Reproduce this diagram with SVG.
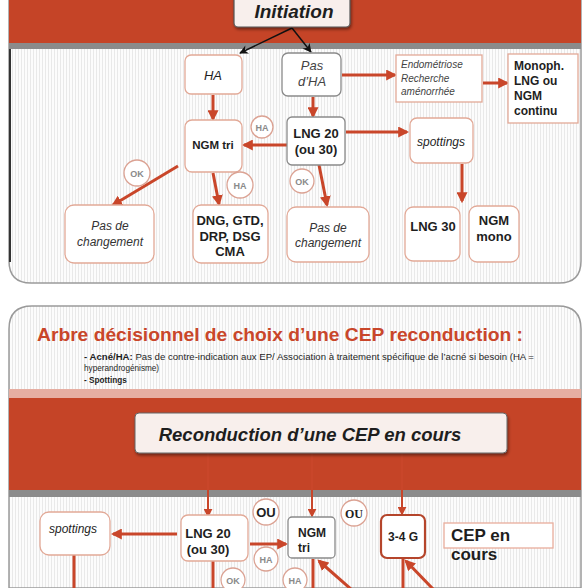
<svg xmlns="http://www.w3.org/2000/svg" width="588" height="588" viewBox="0 0 588 588">
<defs>
<pattern id="stripes" width="3" height="10" patternUnits="userSpaceOnUse"><rect width="3" height="10" fill="#fcfcfc"/><rect width="1" height="10" fill="#e9e9e9"/></pattern>
<marker id="oa" viewBox="0 0 10 10" refX="8" refY="5" markerWidth="11" markerHeight="11" markerUnits="userSpaceOnUse" orient="auto"><path d="M0,0 L10,5 L0,10 Z" fill="#c9462a"/></marker>
<marker id="ob" viewBox="0 0 10 10" refX="8" refY="5" markerWidth="9" markerHeight="9" markerUnits="userSpaceOnUse" orient="auto"><path d="M0,0 L10,5 L0,10 Z" fill="#c9462a"/></marker>
<marker id="ba" viewBox="0 0 10 10" refX="9" refY="5" markerWidth="10" markerHeight="9" markerUnits="userSpaceOnUse" orient="auto"><path d="M0,0 L10,5 L0,10 L3,5 Z" fill="#111"/></marker>
<filter id="sh" x="-10%" y="-20%" width="120%" height="150%"><feDropShadow dx="1" dy="2" stdDeviation="1.5" flood-color="#000" flood-opacity="0.45"/></filter>
</defs>
<style>
text{font-family:"Liberation Sans",Arial,sans-serif;fill:#1e1e1e}
.b{font-weight:bold}
.i{font-style:italic}
.box{fill:#fff;stroke:#e2a997;stroke-width:1.3}
.gbox{fill:#fff;stroke:#8a8a8a;stroke-width:1.3}
.circ{fill:#fff;stroke:#dba293;stroke-width:1.3}
.ct{font-size:9px;font-weight:bold;fill:#8a8a8a}
.oc{stroke:#c9462a;stroke-width:3;fill:none}
.ot{stroke:#c9462a;stroke-width:2;fill:none}
</style>

<!-- Panel 1 -->
<g id="panel1">
<path d="M9,0 H581 V261 Q581,283 559,283 H31 Q9,283 9,261 Z" fill="url(#stripes)" stroke="#9a9a9a" stroke-width="1.5"/>
<rect x="9" y="0" width="572" height="43" fill="#c54427"/>
<rect x="9" y="43" width="572" height="6" fill="#8b8b8b"/>
<line x1="10" y1="49" x2="10" y2="262" stroke="#333" stroke-width="2"/>
</g>

<!-- Panel 2 -->
<g id="panel2">
<path d="M9,329 Q9,306 32,306 H558 Q581,306 581,329 V588 H9 Z" fill="url(#stripes)" stroke="#9a9a9a" stroke-width="1.5"/>
<rect x="9" y="389" width="572" height="9" fill="#e6aea2"/>
<rect x="9" y="398" width="572" height="92" fill="#c54427"/>
<rect x="9" y="490" width="572" height="7" fill="#8b8b8b"/>
<text x="37" y="341" font-size="19" class="b" style="fill:#c9462a" textLength="486" lengthAdjust="spacingAndGlyphs">Arbre décisionnel de choix d’une CEP reconduction :</text>
<text x="84" y="360" font-size="8.2" textLength="450" lengthAdjust="spacingAndGlyphs"><tspan class="b">- Acné/HA:</tspan> Pas de contre-indication aux EP/ Association à traitement spécifique de l’acné si besoin (HA =</text>
<text x="84" y="371" font-size="8.2">hyperandrogénisme)</text>
<text x="84" y="383" font-size="8.2" class="b">- Spottings</text>
</g>

<!-- Connectors -->
<g id="connectors">
<line x1="292" y1="28" x2="240" y2="53" stroke="#111" stroke-width="1.5" marker-end="url(#ba)"/>
<line x1="292" y1="28" x2="311" y2="52" stroke="#111" stroke-width="1.5" marker-end="url(#ba)"/>
<line class="oc" x1="342" y1="75" x2="395" y2="75" marker-end="url(#oa)"/>
<line class="oc" x1="483" y1="83" x2="507" y2="83" marker-end="url(#oa)"/>
<line class="oc" x1="213" y1="95" x2="213" y2="119" marker-end="url(#oa)"/>
<line class="oc" x1="313" y1="97" x2="313" y2="116" marker-end="url(#oa)"/>
<line class="oc" x1="287" y1="145" x2="244" y2="145" marker-end="url(#oa)"/>
<line class="oc" x1="346" y1="132" x2="407" y2="132" marker-end="url(#oa)"/>
<line class="oc" x1="462" y1="164" x2="462" y2="201" marker-end="url(#oa)"/>
<line class="oc" x1="178" y1="166" x2="113" y2="205" marker-end="url(#oa)"/>
<line class="oc" x1="213" y1="173" x2="219" y2="204" marker-end="url(#oa)"/>
<line class="oc" x1="319" y1="165" x2="327" y2="205" marker-end="url(#oa)"/>

<line class="ot" x1="208" y1="453" x2="208" y2="516" marker-end="url(#ob)"/>
<line class="ot" x1="312" y1="453" x2="312" y2="516" marker-end="url(#ob)"/>
<line class="ot" x1="402" y1="453" x2="402" y2="514" marker-end="url(#ob)"/>
<line class="oc" x1="177" y1="534" x2="113" y2="534" marker-end="url(#oa)"/>
<line class="oc" x1="250" y1="544" x2="286" y2="544" marker-end="url(#oa)"/>
<line class="oc" x1="74" y1="555" x2="74" y2="590"/>
<line class="oc" x1="213" y1="561" x2="213" y2="590"/>
<line class="oc" x1="313" y1="590" x2="313" y2="559"/>
<line class="oc" x1="352" y1="590" x2="319" y2="561" marker-end="url(#oa)"/>
<line class="oc" x1="403" y1="559" x2="403" y2="590"/>
<line class="oc" x1="434" y1="590" x2="406" y2="561" marker-end="url(#oa)"/>
</g>

<!-- Top nodes -->
<g id="initiation">
<rect x="234" y="-6" width="116" height="33" rx="4" fill="#f8efec" stroke="#555" stroke-width="1.2" filter="url(#sh)"/>
<text x="294" y="18" font-size="19" class="b i" text-anchor="middle">Initiation</text>
</g>
<g id="ha">
<rect class="box" x="185" y="55" width="57" height="39" rx="6"/>
<text x="213" y="80" font-size="13" class="i" text-anchor="middle">HA</text>
</g>
<g id="pas-dha">
<rect class="gbox" x="282" y="53" width="59" height="43" rx="6"/>
<text x="312" y="70" font-size="13" class="i" text-anchor="middle" style="fill:#444">Pas</text>
<text x="312" y="86" font-size="13" class="i" text-anchor="middle" style="fill:#444">d’HA</text>
</g>
<g id="endometriose">
<rect class="box" x="396" y="55" width="86" height="47"/>
<text x="401" y="68" font-size="10" class="i" style="fill:#444">Endométriose</text>
<text x="401" y="82" font-size="10" class="i" style="fill:#444">Recherche</text>
<text x="401" y="95" font-size="10" class="i" style="fill:#444">aménorrhée</text>
</g>
<g id="monoph">
<rect class="box" x="508" y="54" width="70" height="69"/>
<text x="514" y="70" font-size="12" class="b">Monoph.</text>
<text x="514" y="85" font-size="12" class="b">LNG ou</text>
<text x="514" y="100" font-size="12" class="b">NGM</text>
<text x="514" y="115" font-size="12" class="b">continu</text>
</g>
<g id="ngm-tri">
<rect class="box" x="185" y="120" width="57" height="52" rx="7"/>
<text x="213" y="149" font-size="11.5" class="b" text-anchor="middle">NGM tri</text>
</g>
<g id="lng20">
<rect class="gbox" x="287" y="117" width="58" height="48" rx="5"/>
<text x="316" y="138" font-size="13" class="b" text-anchor="middle">LNG 20</text>
<text x="316" y="154" font-size="13" class="b" text-anchor="middle">(ou 30)</text>
</g>
<g id="spottings1">
<rect class="box" x="410" y="118" width="63" height="45" rx="7"/>
<text x="441" y="146" font-size="12" class="i" text-anchor="middle">spottings</text>
</g>
<g id="c-ha1"><circle class="circ" cx="262" cy="127" r="11"/><text class="ct" x="262" y="130.5" text-anchor="middle">HA</text></g>
<g id="c-ok1"><circle class="circ" cx="137" cy="173" r="13"/><text class="ct" x="137" y="176.5" text-anchor="middle">OK</text></g>
<g id="c-ha2"><circle class="circ" cx="240" cy="185" r="13"/><text class="ct" x="240" y="188.5" text-anchor="middle">HA</text></g>
<g id="c-ok2"><circle class="circ" cx="302" cy="181" r="12"/><text class="ct" x="302" y="184.5" text-anchor="middle">OK</text></g>
<g id="pas-changement1">
<rect class="box" x="65" y="205" width="89" height="58" rx="9"/>
<text x="110" y="230" font-size="12" class="i" text-anchor="middle" style="fill:#333">Pas de</text>
<text x="110" y="246" font-size="12" class="i" text-anchor="middle" style="fill:#333">changement</text>
</g>
<g id="dng">
<rect class="box" x="193" y="205" width="75" height="58" rx="8"/>
<text x="230" y="225" font-size="13" class="b" text-anchor="middle">DNG, GTD,</text>
<text x="230" y="241" font-size="13" class="b" text-anchor="middle">DRP, DSG</text>
<text x="230" y="256" font-size="13" class="b" text-anchor="middle">CMA</text>
</g>
<g id="pas-changement2">
<rect class="box" x="287" y="207" width="82" height="55" rx="9"/>
<text x="328" y="232" font-size="12" class="i" text-anchor="middle" style="fill:#333">Pas de</text>
<text x="328" y="247" font-size="12" class="i" text-anchor="middle" style="fill:#333">changement</text>
</g>
<g id="lng30">
<rect class="box" x="405" y="207" width="55" height="54" rx="8"/>
<text x="433" y="231" font-size="13" class="b" text-anchor="middle">LNG 30</text>
</g>
<g id="ngm-mono">
<rect class="box" x="469" y="206" width="50" height="56" rx="8"/>
<text x="494" y="225" font-size="13" class="b" text-anchor="middle">NGM</text>
<text x="494" y="241" font-size="13" class="b" text-anchor="middle">mono</text>
</g>

<!-- Bottom nodes -->
<g id="reconduction">
<rect x="135" y="413" width="372" height="40" rx="4" fill="#f8efec" stroke="#666" stroke-width="1" filter="url(#sh)"/>
<text x="310" y="441" font-size="18.5" class="b i" text-anchor="middle">Reconduction d’une CEP en cours</text>
</g>
<g id="spottings2">
<rect class="box" x="40" y="512" width="70" height="43" rx="9"/>
<text x="73" y="533" font-size="12" class="i" text-anchor="middle">spottings</text>
</g>
<g id="lng20b">
<rect class="box" x="181" y="515" width="67" height="46" rx="7"/>
<text x="208" y="538" font-size="13" class="b" text-anchor="middle">LNG 20</text>
<text x="208" y="554" font-size="13" class="b" text-anchor="middle">(ou 30)</text>
</g>
<g id="ngm-tri2">
<rect class="gbox" x="288" y="517" width="47" height="41" rx="4"/>
<text x="298" y="537" font-size="12" class="b">NGM</text>
<text x="298" y="552" font-size="12" class="b">tri</text>
</g>
<g id="g34">
<rect x="381" y="515" width="44" height="43" rx="6" fill="#fff" stroke="#b5452b" stroke-width="2.2"/>
<text x="403" y="541" font-size="12" class="b" text-anchor="middle">3-4 G</text>
</g>
<g id="cep-en-cours">
<rect x="444" y="523" width="109" height="25" fill="#fff" stroke="#e8ad9c" stroke-width="1.3"/>
<text x="451" y="541" font-size="17" class="b">CEP en</text>
<text x="451" y="560" font-size="17" class="b">cours</text>
</g>
<g id="c-ou1"><circle class="circ" cx="266" cy="512" r="13"/><text x="266" y="517" font-size="13" class="b" text-anchor="middle">OU</text></g>
<g id="c-ou2"><circle class="circ" cx="354" cy="513" r="13"/><text x="354" y="517.5" font-size="12" class="b" text-anchor="middle" style="font-family:'Liberation Serif',serif">OU</text></g>
<g id="c-ha3"><circle class="circ" cx="266" cy="559" r="12"/><text class="ct" x="266" y="562.5" text-anchor="middle">HA</text></g>
<g id="c-ok3"><circle class="circ" cx="233" cy="580" r="12"/><text class="ct" x="233" y="583.5" text-anchor="middle">OK</text></g>
<g id="c-ha4"><circle class="circ" cx="295" cy="580" r="12"/><text class="ct" x="295" y="583.5" text-anchor="middle">HA</text></g>
</svg>
